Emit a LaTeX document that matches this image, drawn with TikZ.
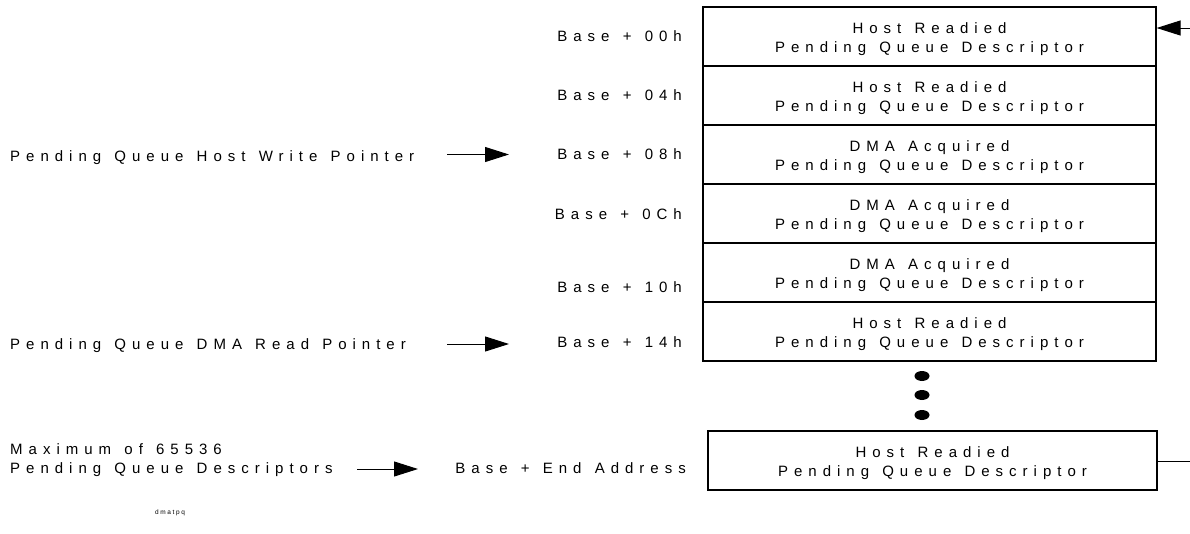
\documentclass[tikz,border=0pt]{standalone}
\usepackage{fontspec}
\setmainfont{Liberation Sans}[LetterSpace=40,WordSpace=1.3]
\newfontfamily\tagfont{Liberation Sans}[LetterSpace=25]
\usetikzlibrary{arrows.meta}
\begin{document}
\begin{tikzpicture}[x=1pt,y=-1pt,
  lbl/.style={inner sep=0pt,font=\fontsize{15}{19}\selectfont},
  row/.style={draw,line width=1.2pt,minimum width=453pt,minimum height=59pt,inner sep=0pt},
  rowtext/.style={lbl,align=center,yshift=-3pt},
  ptr/.style={line width=1pt,-{Triangle[length=24pt,width=15pt]}}]
\useasboundingbox (0,0) rectangle (1190,533);
% stack
\node[row,label={[rowtext]center:Host Readied\\Pending Queue Descriptor}] (r0) at (929.5,36.5) {};
\node[row,label={[rowtext]center:Host Readied\\Pending Queue Descriptor}] (r1) at (929.5,95.5) {};
\node[row,label={[rowtext]center:DMA Acquired\\Pending Queue Descriptor}] (r2) at (929.5,154.5) {};
\node[row,label={[rowtext]center:DMA Acquired\\Pending Queue Descriptor}] (r3) at (929.5,213.5) {};
\node[row,label={[rowtext]center:DMA Acquired\\Pending Queue Descriptor}] (r4) at (929.5,272.5) {};
\node[row,label={[rowtext]center:Host Readied\\Pending Queue Descriptor}] (r5) at (929.5,331.5) {};
\node[row,minimum width=449pt,label={[rowtext]center:Host Readied\\Pending Queue Descriptor}] (rend) at (932.5,460.5) {};
% dots
\fill (922,376) ellipse (7.5 and 5);
\fill (922,395) ellipse (7.5 and 5);
\fill (922,415) ellipse (7.5 and 5);
% offsets
\node[lbl,anchor=base east] (b0) at (682,41) {Base + 00h};
\node[lbl,anchor=base east] (b1) at (682,100) {Base + 04h};
\node[lbl,anchor=base east] (b2) at (682,159) {Base + 08h};
\node[lbl,anchor=base east] (b3) at (682,219) {Base + 0Ch};
\node[lbl,anchor=base east] (b4) at (682,292) {Base + 10h};
\node[lbl,anchor=base east] (b5) at (682,347) {Base + 14h};
\node[lbl,anchor=base east] (bend) at (686,473) {Base + End Address};
% pointers
\node[lbl,anchor=base west] (hw) at (10,161) {Pending Queue Host Write Pointer};
\node[lbl,anchor=base west] (dr) at (10,349) {Pending Queue DMA Read Pointer};
\node[lbl,anchor=base west,align=left] (mx) at (10,473) {Maximum of 65536\\Pending Queue Descriptors};
\node[inner sep=0pt,anchor=base west,font=\tagfont\fontsize{6.5}{8}\selectfont] (tag) at (155,514) {dmatpq};
% arrows
\coordinate (hwS) at (447,154.5);
\coordinate (hwE) at (509,154.5);
\coordinate (drS) at (447,344);
\coordinate (drE) at (509,344);
\coordinate (mxS) at (357,469);
\coordinate (mxE) at (418,469);
\coordinate (topS) at (1190,28);
\coordinate (botE) at (1190,461);
\draw[ptr] (hwS) -- (hwE);
\draw[ptr] (drS) -- (drE);
\draw[ptr] (mxS) -- (mxE);
\draw[ptr] (topS) -- (r0.east |- topS);
\draw[line width=1pt] (rend.east |- botE) -- (botE);
\end{tikzpicture}
\end{document}
